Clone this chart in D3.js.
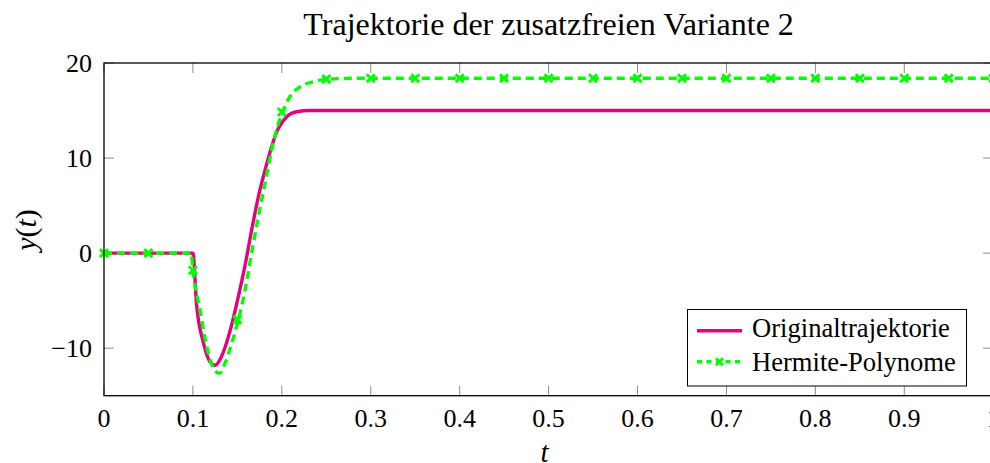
<!DOCTYPE html>
<html>
<head>
<meta charset="utf-8">
<script src="https://cdn.jsdelivr.net/npm/d3@7"></script>
<style>
  body { margin: 0; background: #fff; }
  svg { display: block; }
</style>
</head>
<body>
<svg id="chart" width="990" height="463"></svg>
<script>
// Chart text
const titleText = "Trajektorie der zusatzfreien Variante 2";
const seriesNames = ["Originaltrajektorie", "Hermite-Polynome"];

// Axis ticks
const xTicks = [0, 0.1, 0.2, 0.3, 0.4, 0.5, 0.6, 0.7, 0.8, 0.9, 1];
const xTickLabels = ["0", "0.1", "0.2", "0.3", "0.4", "0.5", "0.6", "0.7", "0.8", "0.9", "1"];
const yTicks = [-10, 0, 10, 20];
const yTickLabels = ["\u221210", "0", "10", "20"];

// Original trajectory y(t)
const origT = [0, 0.1, 0.104, 0.112, 0.119, 0.125, 0.132, 0.142, 0.151, 0.159, 0.166, 0.1735, 0.181, 0.1885, 0.196, 0.2055, 0.2165, 0.2315, 0.25, 1.0];
const origY = [0, 0, -5.3, -9.5, -11.4, -11.8, -10.9, -8.1, -4.6, -1.1, 2.4, 5.9, 8.7, 11.2, 13.1, 14.35, 14.87, 15.0, 15.0, 15.0];

// Hermite polynomial approximation (dashed line)
const hermT = [0, 0.098, 0.1, 0.108, 0.1155, 0.123, 0.1297, 0.136, 0.1436, 0.151, 0.1586, 0.166, 0.1735, 0.181, 0.1886, 0.195, 0.201, 0.209, 0.2205, 0.2355, 0.2505, 0.28, 1.0];
const hermY = [0, 0, -1.8, -6.0, -9.85, -12.1, -12.65, -11.6, -9.5, -7.05, -3.9, 0, 3.8, 7.3, 10.85, 13.3, 14.87, 16.45, 17.5, 18.03, 18.28, 18.39, 18.39];

// Hermite polynomial sample points (markers)
const markT = [0, 0.05, 0.1, 0.15, 0.2, 0.25, 0.3, 0.35, 0.4, 0.45, 0.5, 0.55, 0.6, 0.65, 0.7, 0.75, 0.8, 0.85, 0.9, 0.95, 1.0];
const markY = [0, 0, -1.8, -7.0, 14.85, 18.3, 18.39, 18.39, 18.39, 18.39, 18.39, 18.39, 18.39, 18.39, 18.39, 18.39, 18.39, 18.39, 18.39, 18.39, 18.39];

const colOrig = "#e6007e";
const colHerm = "#00ff00";
const serif = "Liberation Serif, Times New Roman, Times, DejaVu Serif, serif";

const svg = d3.select("#chart").attr("font-family", serif);
const plotL = 104, plotR = 993.2, plotT = 63, plotB = 395.7;

const x = d3.scaleLinear().domain([0, 1]).range([plotL, plotR]);
const y = d3.scaleLinear().domain([-15, 20]).range([plotB, plotT]);

function label(g, px, py, str, size, anchor) {
  return g.append("text").attr("x", px).attr("y", py)
    .attr("font-family", serif).attr("font-size", size)
    .attr("text-anchor", anchor || "start").attr("fill", "#000").text(str);
}

svg.append("defs").append("clipPath").attr("id", "plotclip")
  .append("rect").attr("x", plotL).attr("y", plotT)
  .attr("width", plotR - plotL).attr("height", plotB - plotT);

// Title
label(svg, (plotL + plotR) / 2, 35, titleText, 32, "middle");

// Ticks (inside, on all four sides)
const tickLen = 10;
const tickG = svg.append("g").attr("stroke", "#8c8c8c").attr("stroke-width", 1);
xTicks.forEach(t => {
  tickG.append("line").attr("x1", x(t)).attr("x2", x(t)).attr("y1", plotB).attr("y2", plotB - tickLen);
  tickG.append("line").attr("x1", x(t)).attr("x2", x(t)).attr("y1", plotT).attr("y2", plotT + tickLen);
});
yTicks.forEach(v => {
  tickG.append("line").attr("x1", plotL).attr("x2", plotL + tickLen).attr("y1", y(v)).attr("y2", y(v));
  tickG.append("line").attr("x1", plotR).attr("x2", plotR - tickLen).attr("y1", y(v)).attr("y2", y(v));
});

// Tick labels
xTicks.forEach((t, i) => label(svg, x(t), 426.5, xTickLabels[i], 26, "middle"));
yTicks.forEach((v, i) => label(svg, 92, y(v) + 8.8, yTickLabels[i], 26, "end"));

// Axis labels
const yl = svg.append("text").attr("transform", "translate(36,230) rotate(-90)")
  .attr("font-family", serif).attr("font-size", 30).attr("text-anchor", "middle");
yl.append("tspan").attr("font-style", "italic").text("y");
yl.append("tspan").text("(");
yl.append("tspan").attr("font-style", "italic").text("t");
yl.append("tspan").text(")");

label(svg, (plotL + plotR) / 2 - 4, 462, "t", 29, "middle").attr("font-style", "italic");

// Curves
const lineGen = d3.line().x(d => x(d[0])).y(d => y(d[1])).curve(d3.curveMonotoneX);
const plot = svg.append("g").attr("clip-path", "url(#plotclip)");

plot.append("path").datum(origT.map((t, i) => [t, origY[i]]))
  .attr("d", lineGen).attr("fill", "none").attr("stroke", colOrig)
  .attr("stroke-width", 3.4).attr("stroke-linejoin", "round");

plot.append("path").datum(hermT.map((t, i) => [t, hermY[i]]))
  .attr("d", lineGen).attr("fill", "none").attr("stroke", colHerm)
  .attr("stroke-width", 3.4).attr("stroke-dasharray", "8,5");

// Cross markers
function cross(g, cx, cy, r) {
  g.append("path").attr("d", `M${cx - r},${cy - r}L${cx + r},${cy + r}M${cx - r},${cy + r}L${cx + r},${cy - r}`)
    .attr("stroke", colHerm).attr("stroke-width", 3).attr("fill", "none");
}
const markG = svg.append("g");
markT.forEach((t, i) => cross(markG, x(t), y(markY[i]), 4));

// Frame
svg.append("rect").attr("x", plotL).attr("y", plotT).attr("width", plotR - plotL).attr("height", plotB - plotT)
  .attr("fill", "none").attr("stroke", "#000").attr("stroke-width", 1.3);

// Legend
const lg = svg.append("g");
lg.append("rect").attr("x", 687.5).attr("y", 309.5).attr("width", 279).attr("height", 76.5)
  .attr("fill", "#fff").attr("stroke", "#000").attr("stroke-width", 1);
lg.append("line").attr("x1", 697).attr("x2", 742).attr("y1", 330.7).attr("y2", 330.7)
  .attr("stroke", colOrig).attr("stroke-width", 3.4);
lg.append("line").attr("x1", 697).attr("x2", 742).attr("y1", 361.7).attr("y2", 361.7)
  .attr("stroke", colHerm).attr("stroke-width", 3.4).attr("stroke-dasharray", "5,4.5");
cross(lg, 719.5, 361.7, 3.5);
label(lg, 752, 337.3, seriesNames[0], 26.6);
label(lg, 752, 370.7, seriesNames[1], 26.6);
</script>
</body>
</html>
